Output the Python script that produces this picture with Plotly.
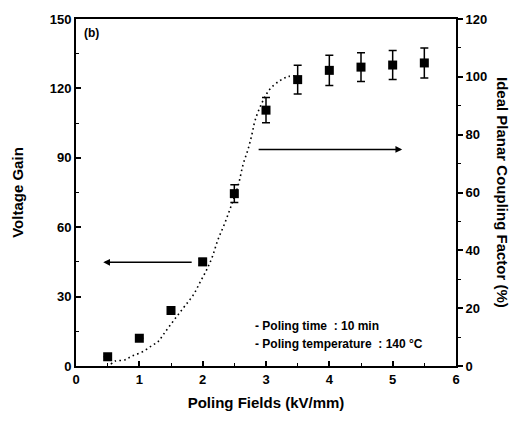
import plotly.graph_objects as go

# Measured data (Voltage Gain, left axis)
field = [0.5, 1.0, 1.5, 2.0, 2.5, 3.0, 3.5, 4.0, 4.5, 5.0, 5.5]
gain = [4, 12, 24, 45, 74.5, 110.6, 123.8, 127.8, 129.2, 130.1, 131]
gain_err = [0, 0, 0, 1.5, 3.8, 5.5, 6.2, 6.5, 6.2, 6.3, 6.5]

# Ideal planar coupling factor curve (%, right axis)
curve_x = [0.55, 0.62, 0.77, 0.88, 1.04, 1.2, 1.3, 1.37, 1.48, 1.6, 1.72, 1.85, 1.96,
           2.07, 2.15, 2.24, 2.35, 2.46, 2.56, 2.64, 2.72, 2.78, 2.83, 2.94, 3.06,
           3.22, 3.35, 3.45]
curve_k = [0.6, 1.7, 2.1, 3.4, 4.8, 7.1, 8.5, 10.6, 13.9, 17.4, 20.8, 24.5, 29,
           33.6, 37.6, 43.6, 49.4, 56, 62.4, 69.8, 75.2, 80.3, 85.1, 91.2, 95.7,
           98.7, 100.1, 100.4]

x_ticks = [0, 1, 2, 3, 4, 5, 6]
y_ticks = [0, 30, 60, 90, 120, 150]
y2_ticks = [0, 20, 40, 60, 80, 100, 120]

FONT = "Liberation Sans, Arial, sans-serif"

fig = go.Figure()

fig.add_trace(go.Scatter(
    x=curve_x, y=curve_k, yaxis="y2", mode="lines",
    line=dict(color="black", width=1.6, dash="1.6px,3.2px", shape="spline"),
    showlegend=False, hoverinfo="skip"))

fig.add_trace(go.Scatter(
    x=field, y=gain, mode="markers",
    marker=dict(symbol="square", size=9, color="black"),
    error_y=dict(type="data", array=gain_err, visible=True, color="black",
                 thickness=1.5, width=4),
    showlegend=False))

axis_common = dict(showgrid=False, zeroline=False, linecolor="black", linewidth=2,
                   tickcolor="black", tickwidth=1.5,
                   tickfont=dict(family=FONT, size=13, color="black", weight="bold"))

fig.update_layout(
    width=520, height=421,
    margin=dict(l=76, r=64, t=15, b=53),
    paper_bgcolor="white", plot_bgcolor="white",
    font=dict(family=FONT, color="black"),
    xaxis=dict(range=[0, 6], tickvals=x_ticks, ticks="inside", ticklen=5,
               mirror=True,
               minor=dict(ticks="inside", dtick=0.5, ticklen=3, tickcolor="black", tickwidth=1.2),
               title=dict(text="Poling Fields (kV/mm)", standoff=12,
                          font=dict(family=FONT, size=15, weight="bold")),
               **axis_common),
    yaxis=dict(range=[0, 150], tickvals=y_ticks, ticks="inside", ticklen=5,
               minor=dict(ticks="inside", dtick=15, ticklen=3, tickcolor="black", tickwidth=1.2),
               title=dict(text="Voltage Gain", standoff=22,
                          font=dict(family=FONT, size=15, weight="bold")),
               **axis_common),
    yaxis2=dict(range=[0, 120], tickvals=y2_ticks, ticks="outside", ticklen=5,
                overlaying="y", side="right",
                minor=dict(ticks="outside", dtick=10, ticklen=3, tickcolor="black", tickwidth=1.2),
                **axis_common),
)

ann_font = dict(family=FONT, size=12, color="black", weight="bold")
fig.add_annotation(x=0.1, y=144, xref="x", yref="y", text="(b)", showarrow=False,
                   xanchor="left", font=dict(family=FONT, size=12, color="black", weight="bold"))
fig.add_annotation(x=2.8, y=17.5, xref="x", yref="y", text="- Poling time  : 10 min",
                   showarrow=False, xanchor="left", font=ann_font)
fig.add_annotation(x=2.8, y=9.5, xref="x", yref="y", text="- Poling temperature  : 140 \u00b0C",
                   showarrow=False, xanchor="left", font=ann_font)

# arrows indicating axes
fig.add_annotation(x=0.43, y=44.8, ax=1.85, ay=44.8, xref="x", yref="y", axref="x", ayref="y",
                   text="", showarrow=True, arrowhead=2, arrowsize=0.9, arrowwidth=1.5,
                   arrowcolor="black")
fig.add_annotation(x=5.15, y=93.6, ax=2.86, ay=93.6, xref="x", yref="y", axref="x", ayref="y",
                   text="", showarrow=True, arrowhead=2, arrowsize=0.9, arrowwidth=1.5,
                   arrowcolor="black")

# right axis title (reads top-to-bottom)
fig.add_annotation(x=1, y=0.5, xref="paper", yref="paper", xshift=57,
                   text="Ideal Planar Coupling Factor (%)", showarrow=False, textangle=90,
                   font=dict(family=FONT, size=15, color="black", weight="bold"))

fig.write_html("out.html")
